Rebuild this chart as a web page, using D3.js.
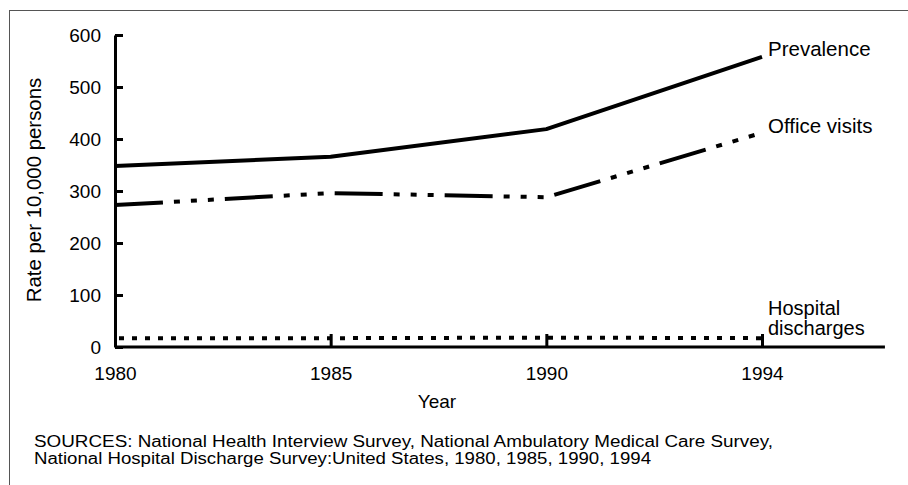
<!DOCTYPE html>
<html>
<head>
<meta charset="utf-8">
<script src="https://cdn.jsdelivr.net/npm/d3@7"></script>
<style>
  html, body { margin: 0; padding: 0; background: #fff; }
  svg { display: block; font-family: "Liberation Sans", Arial, Helvetica, sans-serif; }
</style>
</head>
<body>
<svg id="chart" width="908" height="485"></svg>
<script>
// ---- data ----
const years = ["1980", "1985", "1990", "1994"];
const prevalence = [348, 366, 419, 558];
const officeVisits = [273, 296, 288, 412];
const hospitalDischarges = [17, 17, 18, 17];
const yTicks = [0, 100, 200, 300, 400, 500, 600];
const seriesNames = ["Prevalence", "Office visits", ["Hospital", "discharges"]];
const yLabel = "Rate per 10,000 persons";
const xLabel = "Year";
const sourceLines = [
  "SOURCES: National Health Interview Survey, National Ambulatory Medical Care Survey,",
  "National Hospital Discharge Survey:United States, 1980, 1985, 1990, 1994"
];

(function () {
// ---- layout ----
const svg = d3.select("#chart");
const W = 908, H = 485;
const pLeft = 115, pRight = 762, pTop = 35, pBottom = 347;

// frame
svg.append("rect")
  .attr("x", 9.5).attr("y", 10.5)
  .attr("width", W + 20).attr("height", H + 20)
  .attr("fill", "none").attr("stroke", "#555").attr("stroke-width", 1);

const x = d3.scalePoint().domain(years).range([pLeft, pRight]);
const y = d3.scaleLinear().domain([0, 600]).range([pBottom, pTop]);

const g = svg.append("g");

// y axis
const yAxis = d3.axisLeft(y).tickValues(yTicks).tickSizeInner(-8).tickSizeOuter(0).tickPadding(14);
const yg = g.append("g").attr("transform", `translate(${pLeft},0)`).call(yAxis);
yg.select(".domain").attr("stroke", "#000").attr("stroke-width", 3);
yg.selectAll(".tick line").attr("stroke", "#000").attr("stroke-width", 3);
yg.selectAll(".tick text").attr("font-size", 19).attr("fill", "#000")
  .attr("font-family", "Liberation Sans, Arial, sans-serif");

// x axis
const xAxis = d3.axisBottom(x).tickSizeInner(-13).tickSizeOuter(0).tickPadding(20);
const xg = g.append("g").attr("transform", `translate(0,${pBottom})`).call(xAxis);
xg.select(".domain").remove();
xg.append("line")
  .attr("x1", pLeft).attr("x2", x("1994") + x.step() * 0.57)
  .attr("y1", 0).attr("y2", 0)
  .attr("stroke", "#000").attr("stroke-width", 3);
xg.selectAll(".tick line").attr("stroke", "#000").attr("stroke-width", 3);
xg.selectAll(".tick text").attr("font-size", 19).attr("fill", "#000")
  .attr("font-family", "Liberation Sans, Arial, sans-serif");

// lines
const line = d3.line().x((d, i) => x(years[i])).y(d => y(d));
g.append("path").datum(prevalence).attr("d", line)
  .attr("fill", "none").attr("stroke", "#000").attr("stroke-width", 4).attr("stroke-linejoin", "round");
g.append("path").datum(officeVisits).attr("d", line)
  .attr("fill", "none").attr("stroke", "#000").attr("stroke-width", 4)
  .attr("stroke-dasharray", "48,11,6,11,6,11,6,11");
g.append("path").datum(hospitalDischarges).attr("d", line)
  .attr("fill", "none").attr("stroke", "#000").attr("stroke-width", 4)
  .attr("stroke-dasharray", "5,8").attr("transform", "translate(4,0)");

// series labels
const lx = x("1994") + 6;
svg.append("text").attr("x", lx).attr("y", 56).attr("font-size", 20.5).text(seriesNames[0]);
svg.append("text").attr("x", lx).attr("y", 133).attr("font-size", 20.5).text(seriesNames[1]);
const ht = svg.append("text").attr("x", lx).attr("y", 315).attr("font-size", 20);
ht.append("tspan").attr("x", lx).text(seriesNames[2][0]);
ht.append("tspan").attr("x", lx).attr("dy", 20).text(seriesNames[2][1]);

// axis titles
svg.append("text")
  .attr("transform", `translate(41,190) rotate(-90)`)
  .attr("text-anchor", "middle").attr("font-size", 20.4).text(yLabel);
svg.append("text").attr("x", 437).attr("y", 408).attr("text-anchor", "middle")
  .attr("font-size", 19).text(xLabel);

// sources
svg.append("text").attr("x", 34).attr("y", 447).attr("font-size", 16)
  .attr("textLength", 739).attr("lengthAdjust", "spacingAndGlyphs").text(sourceLines[0]);
svg.append("text").attr("x", 34).attr("y", 464).attr("font-size", 16)
  .attr("textLength", 617).attr("lengthAdjust", "spacingAndGlyphs").text(sourceLines[1]);
})();
</script>
</body>
</html>
